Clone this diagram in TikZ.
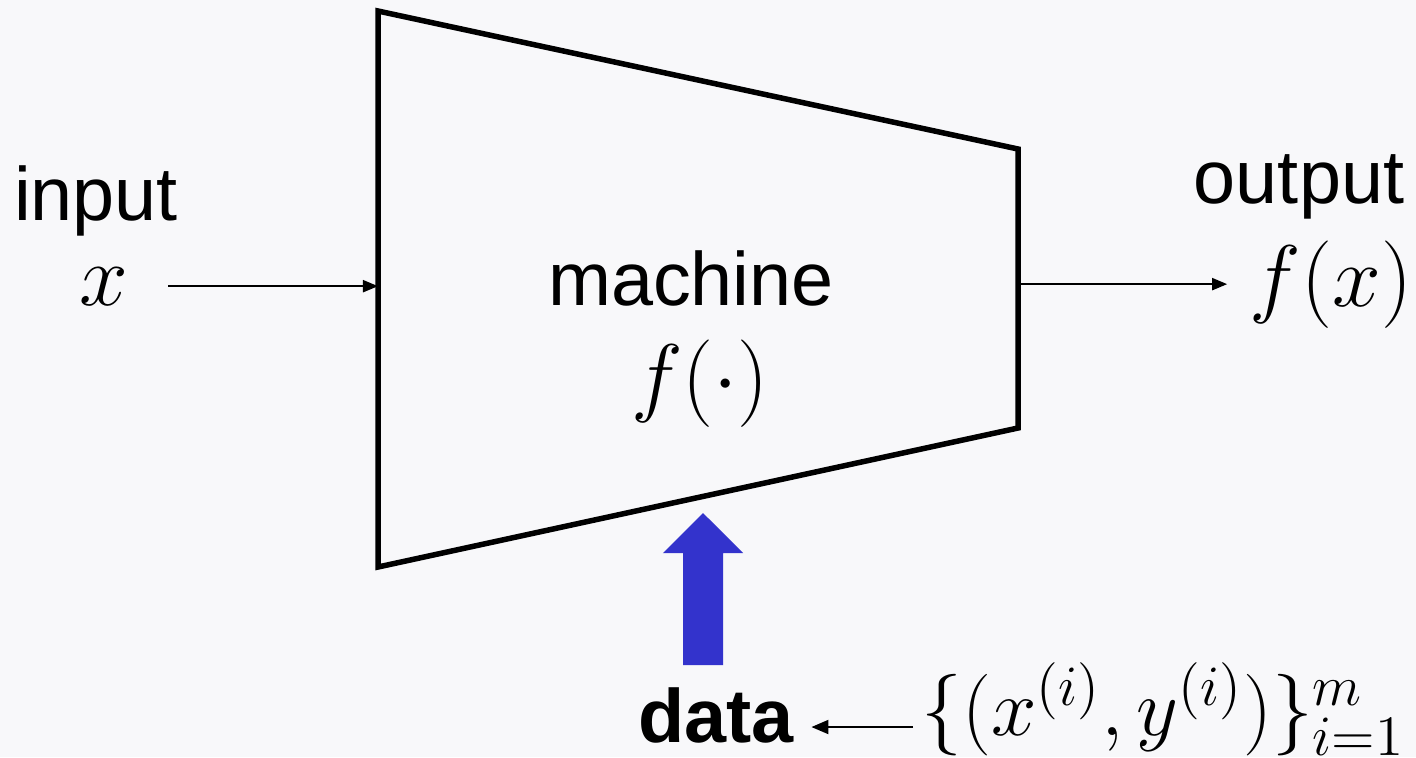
\documentclass[tikz,border=0pt]{standalone}
\usepackage{fix-cm}
\usepackage{fontspec}
\setmainfont{Liberation Sans}
\usetikzlibrary{arrows.meta}
\definecolor{pagebg}{RGB}{248,248,250}
\definecolor{feedblue}{RGB}{51,51,204}
\begin{document}
\begin{tikzpicture}[x=0.01cm, y=-0.01cm,
  lbl/.style={inner sep=0pt, anchor=base, font=\fontsize{21.5}{26}\selectfont},
  mth/.style={inner sep=0pt, anchor=base, font=\fontsize{24.88}{29}\selectfont},
  conn/.style={line width=0.02cm, -{Triangle[length=0.15cm, width=0.12cm]}},
  machinebox/.style={line width=0.055cm},
  feedarrow/.style={fill=feedblue}]
% page background and fixed frame
\fill[pagebg] (0,0) rectangle (1416,757);
\useasboundingbox (0,0) rectangle (1416,757);

% the machine: a tapering trapezoid
\coordinate (tl) at (378,11);
\coordinate (tr) at (1018,149);
\coordinate (br) at (1018,428);
\coordinate (bl) at (378,567);
\draw[machinebox] (tl) -- (tr) -- (br) -- (bl) -- cycle;

% labels
\node[lbl] (inlbl) at (96,220) {input};
\node[mth] (xin) at (104,305) {$x$};
\node[lbl] (outlbl) at (1299,203) {output};
\node[mth] (fx) at (1331,306) {$f(x)$};
\node[lbl] (mlbl) at (691,305) {machine};
\node[mth] (fdot) at (700,405) {$f(\cdot)$};
\node[lbl, font=\fontsize{21.5}{26}\selectfont\bfseries] (data) at (716,742) {data};
\node[mth, anchor=base west, font=\fontsize{23.2}{28}\selectfont] (set) at (921,735) {$\{(x^{(i)},y^{(i)})\}_{i=1}^{m}$};

% input and output connectors
\draw[conn, shorten <=0.39cm] (xin.east) -- (xin.east -| tl);
\draw[conn, shorten >=0.22cm] (br |- fx.west) -- (fx.west);

% training set feeding the data
\coordinate (dataline) at (0,727);
\draw[conn, -{Triangle[length=0.17cm, width=0.14cm]}, shorten >=0.17cm, shorten <=0.08cm]
  (set.west |- dataline) -- (data.east |- dataline);

% thick blue arrow from the data up into the machine
\coordinate (feedTail) at (703,665);
\coordinate (feedHead) at (703,513);
\coordinate (feedNeck) at (703,553);
\fill[feedarrow] ([xshift=-0.2cm]feedTail) -- ([xshift=-0.2cm]feedNeck) -- ([xshift=-0.4cm]feedNeck)
  -- (feedHead) -- ([xshift=0.4cm]feedNeck) -- ([xshift=0.2cm]feedNeck) -- ([xshift=0.2cm]feedTail) -- cycle;
\end{tikzpicture}
\end{document}
